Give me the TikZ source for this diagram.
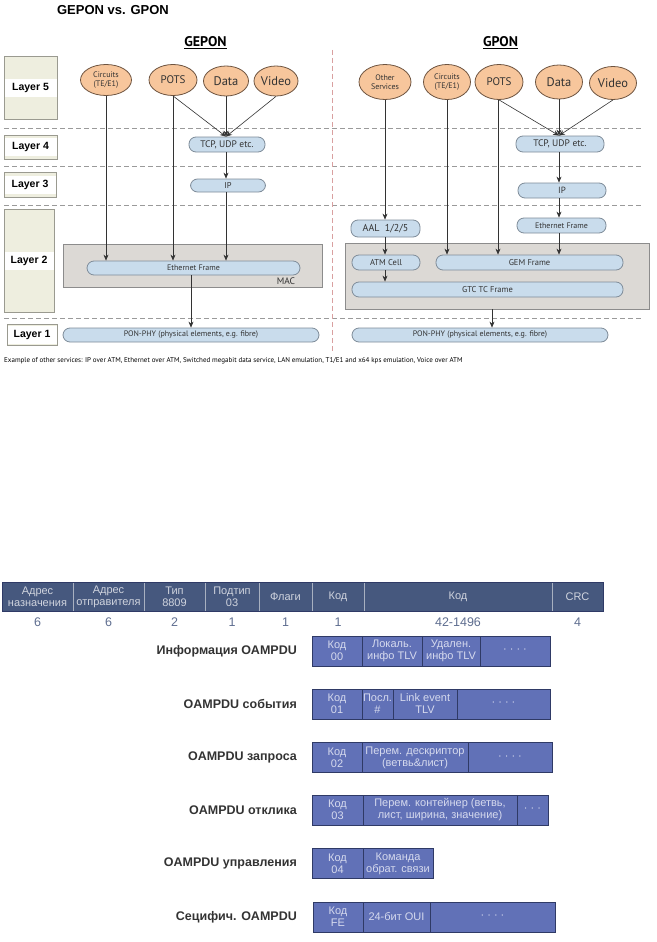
\documentclass[tikz,border=0pt]{standalone}
\usepackage{fontspec}
\setmainfont{Liberation Sans}
\newfontfamily\myriad{PT Sans}
\usetikzlibrary{shapes.geometric, arrows.meta, positioning}

\newcommand{\fsz}[2]{\fontsize{#1}{#2}\selectfont}

\definecolor{peach}{HTML}{F7C69C}
\definecolor{servline}{HTML}{6E5440}
\definecolor{framefill}{HTML}{C9DCEC}
\definecolor{frameline}{HTML}{7F8C99}
\definecolor{macfill}{HTML}{DCD9D5}
\definecolor{macline}{HTML}{8C8C8C}
\definecolor{layerfill}{HTML}{EEEEDF}
\definecolor{layerline}{HTML}{9A9A90}
\definecolor{sepgray}{HTML}{9A9A9A}
\definecolor{midred}{HTML}{D9A0A0}
\definecolor{arrowgray}{HTML}{333333}
\definecolor{headfill}{HTML}{46587E}
\definecolor{headtext}{HTML}{D0D4DE}
\definecolor{headsep}{HTML}{A8B0C0}
\definecolor{sizeblue}{HTML}{5F6E90}
\definecolor{pdufill}{HTML}{6171B7}
\definecolor{pduline}{HTML}{2F3A66}
\definecolor{pdutext}{HTML}{D6DAEE}
\definecolor{labelgray}{HTML}{333333}

\tikzset{
  heading/.style={font=\myriad\bfseries\fsz{14}{16}, inner sep=0pt},
  layer/.style={draw=layerline, fill=layerfill, inner sep=0pt, line width=0.8pt,
    font=\bfseries\fsz{10.5}{12},
    path picture={\fill[white] ([yshift=-9pt]path picture bounding box.west)
      rectangle ([yshift=9pt]path picture bounding box.east);}},
  service/.style={ellipse, draw=servline, fill=peach, inner sep=0pt, align=center,
    text=labelgray, line width=0.8pt},
  frame/.style={draw=frameline, fill=framefill, rounded corners=7pt, inner sep=0pt,
    text=labelgray, line width=0.8pt},
  macbox/.style={draw=macline, fill=macfill, inner sep=0pt, line width=0.8pt},
  sep/.style={dash pattern=on 5pt off 3pt, draw=sepgray, line width=0.8pt},
  arr/.style={-{Stealth[length=6pt, width=5pt]}, draw=arrowgray, line width=0.6pt},
  hcell/.style={draw=headsep, fill=headfill, text=headtext, anchor=west, align=center,
    minimum height=29pt, inner sep=0pt, outer sep=0pt, font=\fsz{11}{12}},
  size/.style={text=sizeblue, inner sep=0pt, font=\fsz{12.5}{14}},
  cell/.style={draw=pduline, fill=pdufill, text=pdutext, anchor=west, align=center,
    minimum height=30pt, inner sep=0pt, outer sep=0pt, font=\fsz{11}{12}},
  pdulabel/.style={anchor=east, text=labelgray, inner sep=0pt, font=\bfseries\fsz{12.5}{14}}
}

\begin{document}
\begin{tikzpicture}[x=1pt, y=-1pt]
\useasboundingbox (0,0) rectangle (656,942);
\fill[white] (0,0) rectangle (656,942);

% titles
\node[font=\bfseries\fsz{13}{15}, inner sep=0pt] (title) at (113,10) {GEPON vs. GPON};
\node[heading] (hgepon) at (205.5,43) {\underline{GEPON}};
\node[heading] (hgpon) at (500.5,43) {\underline{GPON}};

% layers
\node[layer, minimum width=53pt, minimum height=63pt] (l5) at (30.5,87.5) {Layer 5};
\node[layer, minimum width=53pt, minimum height=24pt] (l4) at (30.5,147) {Layer 4};
\node[layer, minimum width=52pt, minimum height=25pt] (l3) at (30,184.5) {Layer 3};
\node[layer, minimum width=50pt, minimum height=103pt] (l2) at (29,260.5) {Layer 2};
\node[layer, minimum width=50pt, minimum height=21pt] (l1) at (32,334.5) {Layer 1};

% separators
\draw[sep] (4,128) -- (641,128);
\draw[sep] (4,166) -- (641,166);
\draw[sep] (4,205) -- (641,205);
\draw[sep] (4,318) -- (641,318);
\draw[dash pattern=on 5pt off 3pt, draw=midred, line width=0.8pt] (332,50) -- (332,352);

% GEPON
\node[macbox, minimum width=259pt, minimum height=43pt] (mac) at (192.5,265.5) {};
\node[font=\myriad\fsz{9.5}{10}, text=labelgray, inner sep=0pt] (maclabel) at (286,281) {MAC};

\node[service, minimum width=51pt, minimum height=31pt, font=\myriad\fsz{8}{9}] (circ1) at (106,80) {Circuits\\(TE/E1)};
\node[service, minimum width=48pt, minimum height=31pt, font=\myriad\fsz{11}{12}] (pots1) at (173,80) {POTS};
\node[service, minimum width=45pt, minimum height=30pt, font=\myriad\fsz{12.5}{13}] (data1) at (226,81) {Data};
\node[service, minimum width=44pt, minimum height=30pt, font=\myriad\fsz{12.5}{13}] (video1) at (276,81) {Video};

\node[frame, minimum width=76pt, minimum height=15pt, font=\myriad\fsz{9.5}{10}] (tcp1) at (227,144.5) {TCP, UDP etc.};
\node[frame, minimum width=75pt, minimum height=13pt, font=\myriad\fsz{8.5}{9}] (ip1) at (228,185.5) {IP};
\node[frame, minimum width=213pt, minimum height=14pt, font=\myriad\fsz{8}{8.5}] (eth1) at (193.5,268) {Ethernet Frame};
\node[frame, minimum width=256pt, minimum height=14pt, font=\myriad\fsz{8}{8.5}] (phy1) at (191,335) {PON-PHY (physical elements, e.g. fibre)};

\draw[arr] (circ1.south) -- (circ1.south |- eth1.north);
\draw[arr] (pots1.south) -- (pots1.south |- eth1.north);
\draw[arr] (pots1.south) -- (data1.south |- tcp1.north);
\draw[arr] (data1.south) -- (data1.south |- tcp1.north);
\draw[arr] (video1.south) -- (data1.south |- tcp1.north);
\draw[arr] (tcp1.south -| data1.south) -- (data1.south |- ip1.north);
\draw[arr] (ip1.south -| data1.south) -- (data1.south |- eth1.north);
\draw[arr] (eth1.south -| phy1.north) -- (phy1.north);

% GPON
\node[macbox, minimum width=304pt, minimum height=66pt] (gtcbox) at (497,276) {};

\node[service, minimum width=52pt, minimum height=35pt, font=\myriad\fsz{8}{9}] (other2) at (385,82) {Other\\Services};
\node[service, minimum width=47pt, minimum height=35pt, font=\myriad\fsz{8}{9}] (circ2) at (447,82) {Circuits\\(TE/E1)};
\node[service, minimum width=48pt, minimum height=35pt, font=\myriad\fsz{11}{12}] (pots2) at (499,82) {POTS};
\node[service, minimum width=47pt, minimum height=34pt, font=\myriad\fsz{12.5}{13}] (data2) at (559,82) {Data};
\node[service, minimum width=47pt, minimum height=33pt, font=\myriad\fsz{12.5}{13}] (video2) at (613,83) {Video};

\node[frame, minimum width=88pt, minimum height=16pt, font=\myriad\fsz{9.5}{10}] (tcp2) at (560,144) {TCP, UDP etc.};
\node[frame, minimum width=88pt, minimum height=15pt, font=\myriad\fsz{9}{9.5}] (ip2) at (562,190.5) {IP};
\node[frame, minimum width=89pt, minimum height=15pt, font=\myriad\fsz{8}{8.5}] (eth2) at (561.5,225.5) {Ethernet Frame};
\node[frame, minimum width=69pt, minimum height=17pt, font=\myriad\fsz{10}{10.5}] (aal) at (385.5,228.5) {AAL\ \ 1/2/5};
\node[frame, minimum width=68pt, minimum height=15pt, font=\myriad\fsz{8.5}{9}] (atm) at (386,262.5) {ATM Cell};
\node[frame, minimum width=187pt, minimum height=15pt, font=\myriad\fsz{8.5}{9}] (gem) at (529.5,262.5) {GEM Frame};
\node[frame, minimum width=271pt, minimum height=15pt, font=\myriad\fsz{8.5}{9}] (gtc) at (487.5,289.5) {GTC TC Frame};
\node[frame, minimum width=256pt, minimum height=14pt, font=\myriad\fsz{8}{8.5}] (phy2) at (480,335) {PON-PHY (physical elements, e.g. fibre)};

\draw[arr] (other2.south) -- (other2.south |- aal.north);
\draw[arr] (aal.south -| other2.south) -- (other2.south |- atm.north);
\draw[arr] (atm.south -| other2.south) -- (other2.south |- gtc.north);
\draw[arr] (circ2.south) -- (circ2.south |- gem.north);
\draw[arr] ([xshift=-1pt]pots2.south) -- ([xshift=-1pt]pots2.south |- gem.north);
\draw[arr] (pots2.south) -- (data2.south |- tcp2.north);
\draw[arr] (data2.south) -- (data2.south |- tcp2.north);
\draw[arr] (video2.south) -- (data2.south |- tcp2.north);
\draw[arr] (tcp2.south -| data2.south) -- (data2.south |- ip2.north);
\draw[arr] (ip2.south -| data2.south) -- (data2.south |- eth2.north);
\draw[arr] (eth2.south -| data2.south) -- (data2.south |- gem.north);
\draw[arr] ([xshift=-5pt]gtcbox.south) -- ([xshift=-5pt]gtcbox.south |- phy2.north);

% note
\node[anchor=west, font=\myriad\fsz{7}{8}, inner sep=0pt] (note) at (4,361) {Example of other services: IP over ATM, Ethernet over ATM, Switched megabit data service, LAN emulation, T1/E1 and x64 kps emulation, Voice over ATM};

% OAMPDU frame
\node[hcell, minimum width=71pt] (h1) at (2,596.5) {Адрес\\назначения};
\node[hcell, minimum width=71pt, right=0pt of h1] (h2) {Адрес\\отправителя};
\node[hcell, minimum width=61pt, right=0pt of h2] (h3) {Тип\\8809};
\node[hcell, minimum width=54pt, right=0pt of h3] (h4) {Подтип\\03};
\node[hcell, minimum width=53pt, right=0pt of h4] (h5) {Флаги};
\node[hcell, minimum width=52pt, right=0pt of h5] (h6) {Код};
\node[hcell, minimum width=188pt, right=0pt of h6] (h7) {Код};
\node[hcell, minimum width=51pt, right=0pt of h7] (h8) {CRC};
\draw[draw=pduline, line width=0.6pt] (h1.north west) rectangle (h8.south east);

\node[size, below=7pt of h1] (s1) {6};
\node[size, below=7pt of h2] (s2) {6};
\node[size, below=7pt of h3] (s3) {2};
\node[size, below=7pt of h4] (s4) {1};
\node[size, below=7pt of h5] (s5) {1};
\node[size, below=7pt of h6] (s6) {1};
\node[size, below=7pt of h7] (s7) {42-1496};
\node[size, below=7pt of h8] (s8) {4};

% OAMPDU types
\node[pdulabel] (linf) at (297,651) {Информация OAMPDU};
\node[cell, minimum width=50pt] (inf1) at (312,651) {Код\\00};
\node[cell, minimum width=60pt, right=0pt of inf1] (inf2) {Локаль.\\инфо TLV};
\node[cell, minimum width=58pt, right=0pt of inf2] (inf3) {Удален.\\инфо TLV};
\node[cell, minimum width=70pt, right=0pt of inf3] (inf4) {· · · ·};

\node[pdulabel] (levt) at (297,704) {OAMPDU события};
\node[cell, minimum width=50pt] (evt1) at (312,704) {Код\\01};
\node[cell, minimum width=31pt, right=0pt of evt1] (evt2) {Посл.\\\#};
\node[cell, minimum width=64pt, right=0pt of evt2] (evt3) {Link event\\TLV};
\node[cell, minimum width=93pt, right=0pt of evt3] (evt4) {· · · ·};

\node[pdulabel] (lreq) at (297,757.5) {OAMPDU запроса};
\node[cell, minimum width=50pt] (req1) at (312,757.5) {Код\\02};
\node[cell, minimum width=106pt, right=0pt of req1] (req2) {Перем. дескриптор\\(ветвь\&лист)};
\node[cell, minimum width=84pt, right=0pt of req2] (req3) {· · · ·};

\node[pdulabel] (lrsp) at (297,810) {OAMPDU отклика};
\node[cell, minimum width=51pt] (rsp1) at (312,810) {Код\\03};
\node[cell, minimum width=154pt, right=0pt of rsp1] (rsp2) {Перем. контейнер (ветвь,\\лист, ширина, значение)};
\node[cell, minimum width=31pt, right=0pt of rsp2] (rsp3) {· · ·};

\node[pdulabel] (lctl) at (297,863.5) {OAMPDU управления};
\node[cell, minimum width=51pt] (ctl1) at (312,863.5) {Код\\04};
\node[cell, minimum width=70pt, right=0pt of ctl1] (ctl2) {Команда\\обрат. связи};

\node[pdulabel] (lorg) at (297,917) {Сецифич. OAMPDU};
\node[cell, minimum width=50pt] (org1) at (313,917) {Код\\FE};
\node[cell, minimum width=67pt, right=0pt of org1] (org2) {24-бит OUI};
\node[cell, minimum width=125pt, right=0pt of org2] (org3) {· · · ·};

\end{tikzpicture}
\end{document}
